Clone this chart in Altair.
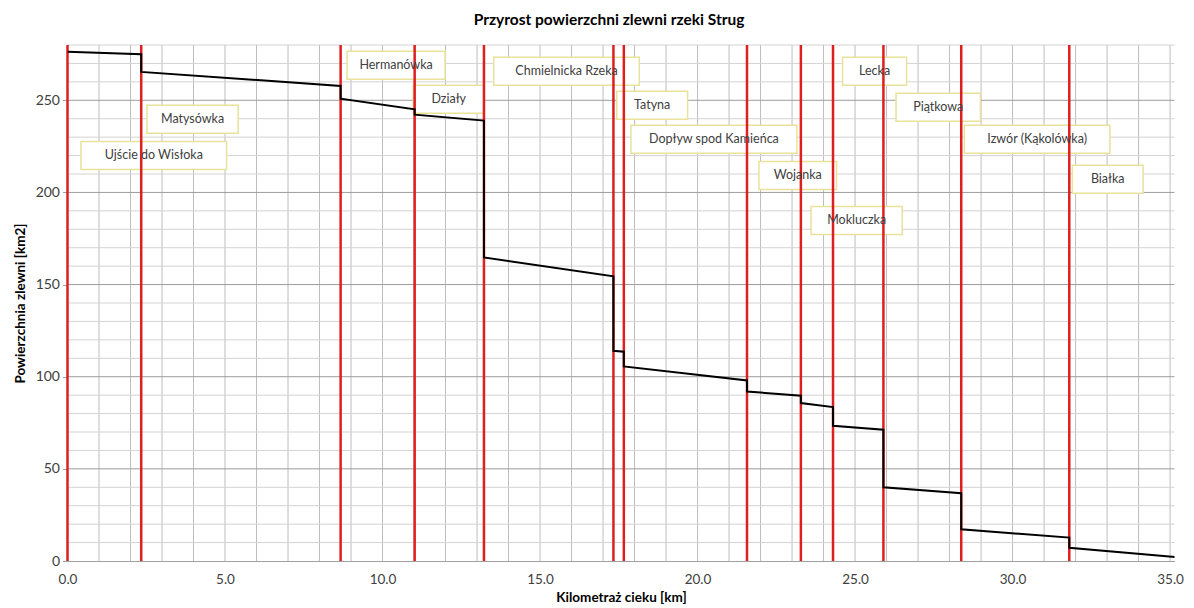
import altair as alt
import pandas as pd
import numpy as np

# ---- data ----
line_km = [0.0, 2.34, 2.34, 8.67, 8.67, 11.02, 11.02, 13.22, 13.22, 17.33, 17.33, 17.66, 17.66,
           21.57, 21.57, 23.28, 23.28, 24.30, 24.30, 25.90, 25.90, 28.37, 28.37, 31.80, 31.80, 35.6]
line_area = [276.4, 275.0, 265.4, 257.8, 250.9, 245.1, 242.2, 239.0, 164.7, 154.5, 114.1, 113.6, 105.6,
             98.0, 92.0, 89.7, 85.7, 83.5, 73.4, 71.2, 40.0, 36.8, 17.2, 12.7, 7.2, 1.5]

trib_km = [0.0, 2.34, 8.67, 11.02, 13.22, 17.33, 17.66, 21.57, 23.28, 24.30, 25.90, 28.37, 31.80]

label_names = ["Ujście do Wisłoka", "Matysówka", "Hermanówka", "Działy", "Chmielnicka Rzeka",
               "Tatyna", "Dopływ spod Kamieńca", "Wojanka", "Mokluczka", "Lecka", "Piątkowa",
               "Izwór (Kąkolówka)", "Białka"]
label_km = [2.74, 3.97, 10.43, 12.10, 15.84, 18.56, 20.52, 23.18, 25.05, 25.62, 27.64, 30.78, 33.02]
label_area = [220.1, 239.7, 269.0, 250.5, 265.8, 247.3, 228.8, 209.2, 184.8, 265.8, 246.2, 228.8, 207.1]

x_ticks = [0, 5, 10, 15, 20, 25, 30, 35]
y_ticks = [0, 50, 100, 150, 200, 250]

# ---- layout ----
X_MAX = 35.14
Y_MAX = 280
W = 1107
H = 516
px_km = W / X_MAX
px_area = H / Y_MAX
FONT = "Lato"

line_df = pd.DataFrame({"km": line_km, "area": line_area, "order": range(len(line_km))})
trib_df = pd.DataFrame({"km": trib_km})

box_w = [len(n) * 6.8 + 30 for n in label_names]
lab_df = pd.DataFrame({"name": label_names, "km": label_km, "area": label_area})
lab_df["x1"] = lab_df["km"] - np.array(box_w) / 2 / px_km
lab_df["x2"] = lab_df["km"] + np.array(box_w) / 2 / px_km
lab_df["y1"] = lab_df["area"] - 14 / px_area
lab_df["y2"] = lab_df["area"] + 14 / px_area

xs = alt.Scale(domain=[0, X_MAX], nice=False, zero=False)
ys = alt.Scale(domain=[0, Y_MAX], nice=False)

xaxis = alt.Axis(values=x_ticks, format=".1f", grid=False, ticks=False, labelFlush=False,
                 labelFont=FONT, labelFontSize=13.5, labelColor="#404040",
                 labelPadding=11, domainColor="#a0a0a0",
                 title="Kilometraż  cieku [km]", titleFont=FONT, titleFontSize=13.5,
                 titleFontWeight="bold", titleColor="#000000", titlePadding=5)
yaxis = alt.Axis(values=y_ticks, grid=False, ticks=True, tickSize=5, tickColor="#a0a0a0",
                 labelFont=FONT, labelFontSize=14, labelColor="#404040", labelFlush=False,
                 labelPadding=3, domain=False,
                 title="Powierzchnia zlewni [km2]", titleFont=FONT, titleFontSize=13.5,
                 titleFontWeight="bold", titleColor="#000000", titlePadding=8)

vgrid_df = pd.DataFrame({"km": np.arange(1, 36, 1)})
hminor_df = pd.DataFrame({"area": [v for v in range(10, 290, 10) if v % 50 != 0]})
hmajor_df = pd.DataFrame({"area": [v for v in range(50, 290, 50)]})

X = lambda f: alt.X(f, scale=xs, axis=xaxis)
Y = lambda f: alt.Y(f, scale=ys, axis=yaxis)

vgrid = alt.Chart(vgrid_df).mark_rule(color="#bdbdbd", strokeWidth=1, clip=True).encode(x=X("km:Q"))
hminor = alt.Chart(hminor_df).mark_rule(color="#d3d3d3", strokeWidth=1).encode(y=Y("area:Q"))
hmajor = alt.Chart(hmajor_df).mark_rule(color="#9c9c9c", strokeWidth=1).encode(y=Y("area:Q"))

boxes = alt.Chart(lab_df).mark_rect(fill="white", stroke="#e8e29a", strokeWidth=1.5).encode(
    x=X("x1:Q"), x2="x2:Q", y=Y("y1:Q"), y2="y2:Q")

red = alt.Chart(trib_df).mark_rule(color="#dd1f1f", strokeWidth=2.5).encode(x=X("km:Q"))

line = alt.Chart(line_df).mark_line(color="#000000", strokeWidth=2, clip=True).encode(
    x=X("km:Q"), y=Y("area:Q"), order="order:Q")

texts = alt.Chart(lab_df).mark_text(font=FONT, fontSize=12.5, color="#404040").encode(
    x=X("km:Q"), y=Y("area:Q"), text="name:N")

chart = alt.layer(vgrid, hminor, hmajor, boxes, red, line, texts).properties(
    width=W, height=H,
    autosize=alt.AutoSizeParams(type="none"),
    padding={"left": 59.5, "top": 37, "right": 11.5, "bottom": 47},
    title=alt.TitleParams("Przyrost powierzchni zlewni rzeki Strug", font=FONT, fontSize=15.5,
                          fontWeight="bold", color="#000000", offset=15, dx=-12),
).configure_view(stroke=None)

chart.save("out.html", embed_options={"renderer": "svg", "actions": False})
